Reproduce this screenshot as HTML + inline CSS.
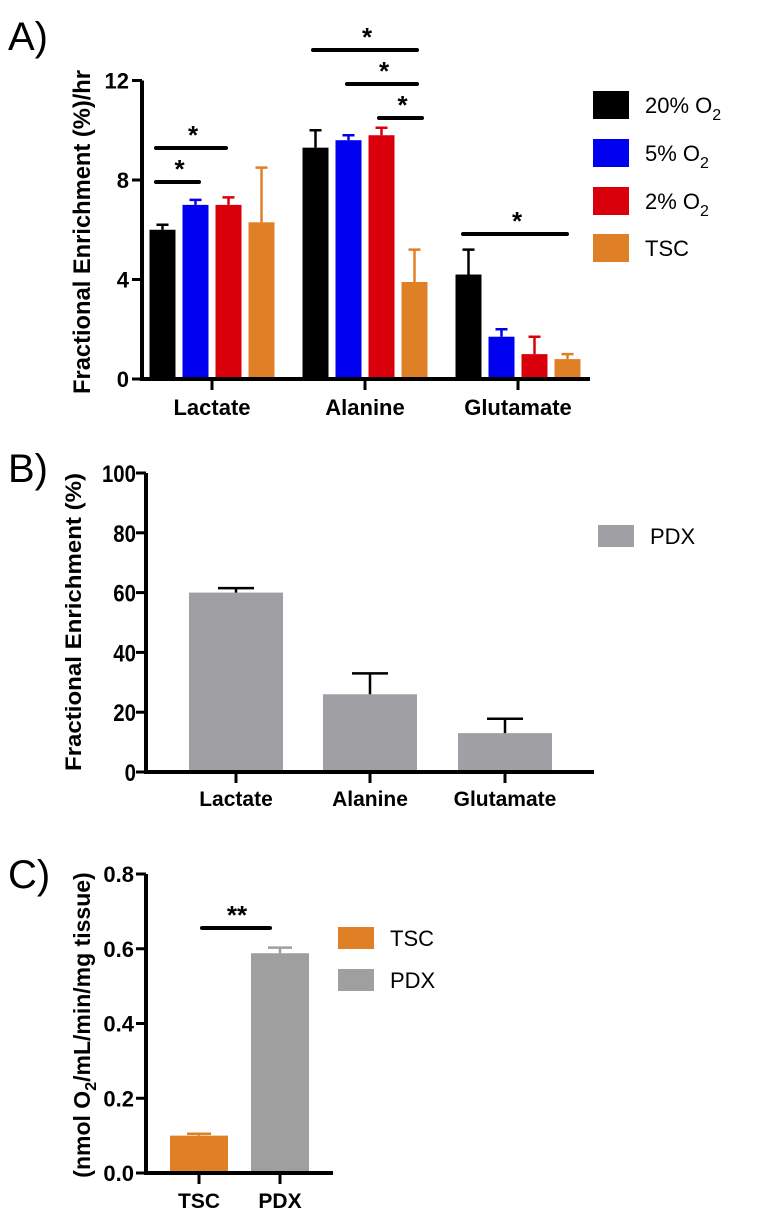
<!DOCTYPE html>
<html><head><meta charset="utf-8"><style>
html,body{margin:0;padding:0;background:#fff;}
svg{display:block;font-family:"Liberation Sans",Arial,sans-serif;}
</style></head><body>
<svg id="fig" width="760" height="1216" viewBox="0 0 760 1216" xmlns="http://www.w3.org/2000/svg">
<text x="8" y="50" font-size="40">A)</text>
<text x="8" y="482" font-size="40">B)</text>
<text x="8" y="888" font-size="40">C)</text>
<g id="pa"></g>
<g id="pb"></g>
<g id="pc"></g>
</svg>
<script>
// Panel A data
const aCategories = ["Lactate","Alanine","Glutamate"];
const aSeries = ["20% O2","5% O2","2% O2","TSC"];
const a20 = [6.0, 9.3, 4.2];
const a5 = [7.0, 9.6, 1.7];
const a2 = [7.0, 9.8, 1.0];
const aTSC = [6.3, 3.9, 0.8];
const a20Err = [0.2, 0.7, 1.0];
const a5Err = [0.2, 0.2, 0.3];
const a2Err = [0.3, 0.3, 0.7];
const aTSCErr = [2.2, 1.3, 0.2];
const aTicks = [0, 4, 8, 12];
// Panel B data
const bCategories = ["Lactate","Alanine","Glutamate"];
const bPDX = [60, 26, 13];
const bPDXErr = [1.5, 7, 4.8];
const bTicks = [0, 20, 40, 60, 80, 100];
// Panel C data
const cCategories = ["TSC","PDX"];
const cValues = [0.100, 0.588];
const cErr = [0.005, 0.015];
const cTicks = [0.0, 0.2, 0.4, 0.6, 0.8];
const cTickLabels = ["0.0","0.2","0.4","0.6","0.8"];

const NS = "http://www.w3.org/2000/svg";
function mk(parent, tag, attrs){
  const e = document.createElementNS(NS, tag);
  for (const k in attrs) e.setAttribute(k, attrs[k]);
  parent.appendChild(e);
  return e;
}

/* ---------- Panel A ---------- */
(function(){
  const g = document.getElementById('pa');
  const x0 = 142, xEnd = 590, y0 = 379, yTop = 80.5, vmax = 12;
  const y = v => y0 - (v / vmax) * (y0 - yTop);
  const groupCenters = [212, 365, 518];
  const step = 33, bw = 26;
  const colors = ["#000000","#0000f0","#d9000b","#e08026"];
  const vals = [a20, a5, a2, aTSC];
  const errs = [a20Err, a5Err, a2Err, aTSCErr];
  for (let c = 0; c < aCategories.length; c++) {
    for (let s = 0; s < 4; s++) {
      const cx = groupCenters[c] + (s - 1.5) * step;
      const v = vals[s][c], e = errs[s][c];
      const r = mk(g, 'rect', {x: cx - bw/2, y: y(v), width: bw, height: y0 - y(v), fill: colors[s]});
      
      
      const l = mk(g, 'path', {d: `M${cx} ${y(v)}V${y(v+e)}M${cx-6} ${y(v+e)}H${cx+6}`, stroke: colors[s], 'stroke-width': 2.5, fill: 'none'});
      
      
    }
    mk(g, 'line', {x1: groupCenters[c], x2: groupCenters[c], y1: y0, y2: y0 + 11, stroke: '#000', 'stroke-width': 3});
    const t = mk(g, 'text', {x: groupCenters[c], y: 415, 'text-anchor': 'middle', 'font-size': 22, 'font-weight': 'bold'});
    t.textContent = aCategories[c];
    
    
  }
  mk(g, 'path', {d: `M${x0} ${yTop}V${y0}H${xEnd}`, stroke: '#000', 'stroke-width': 4, fill: 'none'});
  for (const tv of aTicks) {
    mk(g, 'line', {x1: x0 - 10, x2: x0, y1: y(tv), y2: y(tv), stroke: '#000', 'stroke-width': 3});
    const t = mk(g, 'text', {x: x0 - 13, y: y(tv) + 8, 'text-anchor': 'end', 'font-size': 22, 'font-weight': 'bold'});
    t.textContent = tv;
    
    
  }
  const yl = mk(g, 'text', {x: 0, y: 0, transform: 'translate(90,232) rotate(-90)', 'text-anchor': 'middle', 'font-size': 24, 'font-weight': 'bold', textLength: 324, lengthAdjust: 'spacingAndGlyphs'});
  yl.textContent = 'Fractional Enrichment (%)/hr';
  
  
  const sig = [[156,199,182],[156,226,148],[313,417,50],[347,417,84],[379,422,118],[463,567,234]];
  for (const s of sig) {
    mk(g, 'line', {x1: s[0], x2: s[1], y1: s[2], y2: s[2], stroke: '#000', 'stroke-width': 4, 'stroke-linecap': 'round'});
    const t = mk(g, 'text', {x: (s[0] + s[1]) / 2 + 2, y: s[2] - 4, 'text-anchor': 'middle', 'font-size': 26, 'font-weight': 'bold'});
    t.textContent = '*';
    
    
  }
  const ly = [91, 139, 187, 234];
  const lt = [["20% O","2"],["5% O","2"],["2% O","2"],["TSC",""]];
  for (let i = 0; i < 4; i++) {
    const r = mk(g, 'rect', {x: 593, y: ly[i], width: 36, height: 28, fill: colors[i]});
    
    
    const t = mk(g, 'text', {x: 645, y: ly[i] + 22, 'font-size': 22});
    
    
    t.textContent = lt[i][0];
    if (lt[i][1]) { const ts = mk(t, 'tspan', {dy: 7, 'font-size': 16}); ts.textContent = lt[i][1]; }
  }
})();

/* ---------- Panel B ---------- */
(function(){
  const g = document.getElementById('pb');
  const x0 = 146, xEnd = 594, y0 = 772, yTop = 473, vmax = 100;
  const y = v => y0 - (v / vmax) * (y0 - yTop);
  const centers = [236, 370, 505];
  const bw = 94;
  for (let c = 0; c < bCategories.length; c++) {
    const cx = centers[c], v = bPDX[c], e = bPDXErr[c];
    const r = mk(g, 'rect', {x: cx - bw/2, y: y(v), width: bw, height: y0 - y(v), fill: '#a0a0a4'});
    
    
    const l = mk(g, 'path', {d: `M${cx} ${y(v)}V${y(v+e)}M${cx-18} ${y(v+e)}H${cx+18}`, stroke: '#000', 'stroke-width': 2.5, fill: 'none'});
    
    
    mk(g, 'line', {x1: cx, x2: cx, y1: y0, y2: y0 + 11, stroke: '#000', 'stroke-width': 3});
    const t = mk(g, 'text', {x: cx, y: 806, 'text-anchor': 'middle', 'font-size': 21, 'font-weight': 'bold'});
    t.textContent = bCategories[c];
    
    
  }
  mk(g, 'path', {d: `M${x0} ${yTop}V${y0}H${xEnd}`, stroke: '#000', 'stroke-width': 4, fill: 'none'});
  for (const tv of bTicks) {
    mk(g, 'line', {x1: x0 - 10, x2: x0, y1: y(tv), y2: y(tv), stroke: '#000', 'stroke-width': 3});
    const t = mk(g, 'text', {x: x0 - 10, y: y(tv) + 9, 'text-anchor': 'end', 'font-size': 24, 'font-weight': 'bold', transform: `translate(${(x0-10)*0.15},0) scale(0.85,1)`});
    t.textContent = tv;
    
    
  }
  const yl = mk(g, 'text', {x: 0, y: 0, transform: 'translate(81,622) rotate(-90)', 'text-anchor': 'middle', 'font-size': 22, 'font-weight': 'bold', textLength: 298, lengthAdjust: 'spacingAndGlyphs'});
  yl.textContent = 'Fractional Enrichment (%)';
  
  
  const r = mk(g, 'rect', {x: 598, y: 525, width: 36, height: 22, fill: '#a0a0a4'});
  
  
  const t = mk(g, 'text', {x: 650, y: 544, 'font-size': 22});
  t.textContent = 'PDX';
  
  
})();

/* ---------- Panel C ---------- */
(function(){
  const g = document.getElementById('pc');
  const x0 = 146, xEnd = 333, y0 = 1173, yTop = 874, vmax = 0.8;
  const y = v => y0 - (v / vmax) * (y0 - yTop);
  const centers = [199, 280];
  const bw = 58;
  const colors = ['#e08026', '#9f9f9f'];
  for (let c = 0; c < cCategories.length; c++) {
    const cx = centers[c], v = cValues[c], e = cErr[c];
    const r = mk(g, 'rect', {x: cx - bw/2, y: y(v), width: bw, height: y0 - y(v), fill: colors[c]});
    
    
    const l = mk(g, 'path', {d: `M${cx} ${y(v)}V${y(v+e)}M${cx-12} ${y(v+e)}H${cx+12}`, stroke: colors[c], 'stroke-width': 2.5, fill: 'none'});
    
    
    mk(g, 'line', {x1: cx, x2: cx, y1: y0, y2: y0 + 11, stroke: '#000', 'stroke-width': 3});
    const t = mk(g, 'text', {x: cx, y: 1208, 'text-anchor': 'middle', 'font-size': 21, 'font-weight': 'bold'});
    t.textContent = cCategories[c];
    
    
  }
  mk(g, 'path', {d: `M${x0} ${yTop}V${y0}H${xEnd}`, stroke: '#000', 'stroke-width': 4, fill: 'none'});
  for (let i = 0; i < cTicks.length; i++) {
    const tv = cTicks[i];
    mk(g, 'line', {x1: x0 - 10, x2: x0, y1: y(tv), y2: y(tv), stroke: '#000', 'stroke-width': 3});
    const t = mk(g, 'text', {x: x0 - 12, y: y(tv) + 8, 'text-anchor': 'end', 'font-size': 22, 'font-weight': 'bold'});
    t.textContent = cTickLabels[i];
    
    
  }
  const yl = mk(g, 'text', {x: 0, y: 0, transform: 'translate(90,1025) rotate(-90)', 'text-anchor': 'middle', 'font-size': 23, 'font-weight': 'bold'});
  
  
  const t1 = mk(yl, 'tspan', {}); t1.textContent = '(nmol O';
  const t2 = mk(yl, 'tspan', {dy: 6, 'font-size': 16}); t2.textContent = '2';
  const t3 = mk(yl, 'tspan', {dy: -6}); t3.textContent = '/mL/min/mg tissue)';
  mk(g, 'line', {x1: 202, x2: 270, y1: 928, y2: 928, stroke: '#000', 'stroke-width': 4, 'stroke-linecap': 'round'});
  const st = mk(g, 'text', {x: 237, y: 924, 'text-anchor': 'middle', 'font-size': 26, 'font-weight': 'bold'});
  st.textContent = '**';
  
  
  const ly = [927, 969];
  for (let i = 0; i < 2; i++) {
    const r = mk(g, 'rect', {x: 338, y: ly[i], width: 36, height: 22, fill: colors[i]});
    
    
    const t = mk(g, 'text', {x: 390, y: ly[i] + 19, 'font-size': 22});
    t.textContent = cCategories[i];
    
    
  }
})();
</script>
</body></html>
